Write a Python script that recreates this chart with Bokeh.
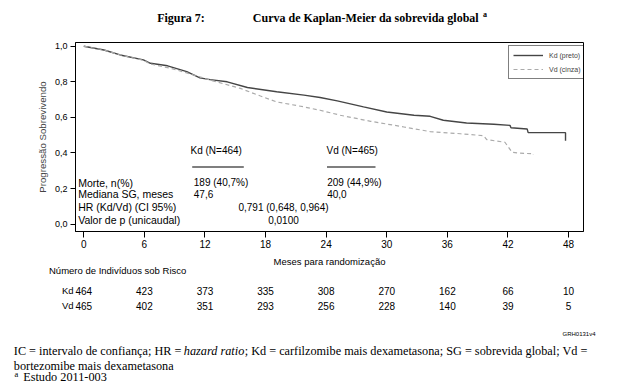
from bokeh.plotting import figure
from bokeh.layouts import column
from bokeh.models import (Label, LabelSet, ColumnDataSource, FixedTicker, Range1d,
                          Legend, LegendItem, Arrow)
from bokeh.core.properties import value
from bokeh.embed import file_html
from bokeh.resources import INLINE

# ---------------- data ----------------
kd_months = [0, 2, 3.6, 5.9, 6.6, 8.3, 10.2, 11.5, 12.5, 14.2, 16.2, 19.1, 21.8, 23.4, 25.1,
             27.7, 30.0, 32.7, 34.3, 35.6, 37.9, 40.6, 42.2, 42.3, 43.9, 44.0, 47.7, 47.7]
kd_surv = [1.0, 0.979, 0.951, 0.923, 0.904, 0.89, 0.857, 0.822, 0.812, 0.80, 0.768, 0.744, 0.725, 0.712, 0.693,
           0.659, 0.63, 0.612, 0.606, 0.584, 0.568, 0.561, 0.555, 0.542, 0.535, 0.514, 0.514, 0.468]
vd_months = [0, 2, 3.6, 5.9, 6.6, 8.6, 10.2, 12.5, 15.5, 17.5, 19.1, 21.8, 23.4, 25.4, 28.4,
             31.7, 34.3, 37.3, 39.6, 39.9, 41.7, 42.4, 42.9, 44.5, 44.5]
vd_surv = [1.0, 0.979, 0.951, 0.921, 0.9, 0.876, 0.85, 0.81, 0.763, 0.72, 0.687, 0.659, 0.64, 0.612, 0.578,
           0.546, 0.52, 0.508, 0.497, 0.475, 0.46, 0.404, 0.40, 0.395, 0.388]

x_ticks = [0, 6, 12, 18, 24, 30, 36, 42, 48]
y_ticks = [0.0, 0.2, 0.4, 0.6, 0.8, 1.0]
y_tick_labels = ["0,0", "0,2", "0,4", "0,6", "0,8", "1,0"]
risk_kd = ["464", "423", "373", "335", "308", "270", "162", "66", "10"]
risk_vd = ["465", "402", "351", "293", "256", "228", "140", "39", "5"]

stats_rows = ["Morte, n(%)", "Mediana SG, meses", "HR (Kd/Vd) (CI 95%)", "Valor de p (unicaudal)"]
kd_stats = ["189 (40,7%)", "47,6"]
vd_stats = ["209 (44,9%)", "40,0"]
hr_text = "0,791 (0,648, 0,964)"
p_text = "0,0100"

SANS = "Liberation Sans"
SERIF = "Liberation Serif"

W = 628
X0, X1 = -0.82, 49.48
FL, FR = 75, 45                     # frame borders left/right
px_per = (W - FL - FR) / (X1 - X0)


def lab(fig, text, x, y, size="10px", font=SANS, align="left", style="normal",
        x_units="screen", baseline="middle"):
    fig.add_layout(Label(x=x, y=y, x_units=x_units, y_units="screen", text=text,
                         text_font=font, text_font_size=size, text_align=align,
                         text_baseline=baseline, text_font_style=style, text_color="black"))


def blank(height, xr=None):
    f = figure(width=W, height=height, output_backend="svg", toolbar_location=None,
               x_range=xr or Range1d(0, W), y_range=Range1d(0, height),
               min_border=0, min_border_left=0, min_border_right=0,
               min_border_top=0, min_border_bottom=0, frame_align=False)
    f.axis.visible = False
    f.grid.visible = False
    f.outline_line_color = None
    f.background_fill_color = "white"
    f.border_fill_color = "white"
    return f


# ---------------- title strip ----------------
top = blank(30)
lab(top, "Figura 7:", 156.7, 13, size="12px", font=SERIF, style="bold")
lab(top, "Curva de Kaplan-Meier da sobrevida global", 252.3, 13, size="12px", font=SERIF, style="bold")
lab(top, "a", 482.5, 16.5, size="8px", font=SERIF, style="bold")

# ---------------- main plot ----------------
p = figure(width=W, height=222, output_backend="svg", toolbar_location=None,
           x_range=Range1d(X0, X1), y_range=Range1d(-0.0417, 1.021), frame_align=False,
           min_border_left=FL, min_border_right=FR, min_border_top=12, min_border_bottom=21)
p.background_fill_color = "white"
p.border_fill_color = "white"
p.outline_line_color = "black"
p.outline_line_width = 1
p.xgrid.visible = False
p.ygrid.visible = False

p.xaxis.ticker = FixedTicker(ticks=x_ticks)
p.xaxis.major_label_text_font = SANS
p.xaxis.major_label_text_font_size = "10px"
p.xaxis.major_label_text_color = "black"
p.xaxis.major_tick_out = 6
p.xaxis.major_tick_in = 0
p.xaxis.minor_tick_line_color = None
p.xaxis.major_label_standoff = 2

p.yaxis.ticker = FixedTicker(ticks=y_ticks)
p.yaxis.major_label_overrides = {t: l for t, l in zip(y_ticks, y_tick_labels)}
p.yaxis.major_label_text_font = SANS
p.yaxis.major_label_text_font_size = "9px"
p.yaxis.major_label_text_color = "black"
p.yaxis.major_tick_out = 5
p.yaxis.major_tick_in = 0
p.yaxis.minor_tick_line_color = None
p.yaxis.major_label_standoff = 3
p.yaxis.axis_label = "Progressão Sobrevivendo"
p.yaxis.axis_label_text_font = SANS
p.yaxis.axis_label_text_font_style = "normal"
p.yaxis.axis_label_text_font_size = "9.7px"
p.yaxis.axis_label_standoff = 4
for ax in (p.xaxis[0], p.yaxis[0]):
    ax.axis_line_color = "black"
    ax.major_tick_line_color = "black"

r_kd = p.line(kd_months, kd_surv, line_color="#454545", line_width=1.4)
r_vd = p.line(vd_months, vd_surv, line_color="#ababab", line_width=1.2, line_dash="4 3")

legend = Legend(items=[LegendItem(label="Kd (preto)", renderers=[r_kd]),
                       LegendItem(label="Vd (cinza)", renderers=[r_vd])],
                location=(433, 152))
legend.border_line_color = "black"
legend.border_line_width = 1
legend.background_fill_alpha = 1
legend.label_text_font = SANS
legend.label_text_font_size = "7px"
legend.glyph_width = 30
legend.glyph_height = 10
legend.label_height = 10
legend.spacing = 4
legend.padding = 4
legend.margin = 0
legend.label_standoff = 6
p.add_layout(legend, "center")

# stats table inside plot (screen coords relative to the plot frame)
lab(p, "Kd (N=464)", 115, 80.7)
lab(p, "Vd (N=465)", 251, 80.7)
p.add_layout(Arrow(end=None, x_start=116.7, y_start=64.5, x_end=168.3, y_end=64.5,
                   start_units="screen", end_units="screen", line_color="black", line_width=1.2))
p.add_layout(Arrow(end=None, x_start=251.5, y_start=64.5, x_end=300, y_end=64.5,
                   start_units="screen", end_units="screen", line_color="black", line_width=1.2))
row_y = [49, 37.3, 24.5, 12]
for t, yy in zip(stats_rows, row_y):
    lab(p, t, 2.7, yy, size="10.5px")
for t, yy in zip(kd_stats, row_y[:2]):
    lab(p, t, 118.3, yy)
for t, yy in zip(vd_stats, row_y[:2]):
    lab(p, t, 251.7, yy)
lab(p, hr_text, 208, row_y[2], align="center")
lab(p, p_text, 208, row_y[3], align="center")

# ---------------- bottom: axis title, risk table, footnotes ----------------
BH = 137                                  # strip spans page y 252..389
bx0 = X0 - FL / px_per
bx1 = X0 + (W - FL) / px_per
bot = blank(BH, xr=Range1d(bx0, bx1))
lab(bot, "Meses para randomização", 329, BH - 9, size="9.5px", align="center")
lab(bot, "Número de Indivíduos sob Risco", 48.5, BH - 18, size="9.5px")
lab(bot, "Kd", 61.5, BH - 38, size="9.5px")
lab(bot, "Vd", 61.5, BH - 53, size="9.5px")
risk_src = ColumnDataSource(dict(x=x_ticks + x_ticks,
                                 y=[BH - 38] * 9 + [BH - 53] * 9,
                                 t=risk_kd + risk_vd))
bot.add_layout(LabelSet(x="x", y="y", text="t", source=risk_src, x_units="data", y_units="screen",
                        text_font=value(SANS), text_font_size="10px", text_align="center",
                        text_baseline="middle", text_color="black"))
lab(bot, "GRH0131v4", 562, BH - 81, size="6px")
FS = "12.25px"
lab(bot, "IC = intervalo de confiança; HR = ", 13.3, 38.3, size=FS, font=SERIF)
lab(bot, "hazard ratio", 183.3, 38.3, size=FS, font=SERIF, style="italic")
lab(bot, "; Kd = carfilzomibe mais dexametasona; SG = sobrevida global; Vd =", 244.2, 38.3,
    size=FS, font=SERIF)
lab(bot, "bortezomibe mais dexametasona", 13.3, 24, size=FS, font=SERIF)
lab(bot, "a", 14, 15.5, size="8.5px", font=SERIF)
lab(bot, "Estudo 2011-003", 22.7, 13, size=FS, font=SERIF)

layout = column(top, p, bot, spacing=0)
open("out.html", "w").write(file_html(layout, INLINE))
